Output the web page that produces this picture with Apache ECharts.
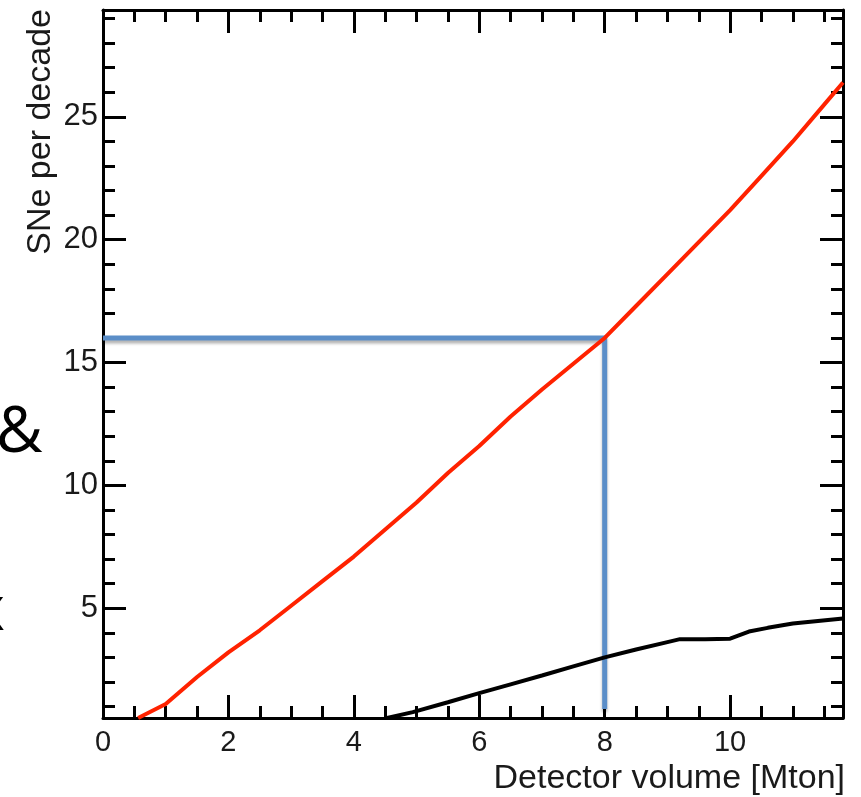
<!DOCTYPE html>
<html>
<head>
<meta charset="utf-8">
<script src="https://cdn.jsdelivr.net/npm/echarts@6/dist/echarts.min.js"></script>
<style>
html,body{margin:0;padding:0;background:#fff;}
#chart{width:861px;height:797px;}
</style>
</head>
<body>
<div id="chart"></div>
<script>
// ---- data ----
const redX = [0.56, 1, 1.5, 2, 2.5, 3, 3.5, 4, 4.5, 5, 5.5, 6, 6.5, 7, 7.5, 8, 8.5, 9, 9.5, 10, 10.5, 11, 11.5, 11.8];
const redY = [0.53, 1.1, 2.2, 3.2, 4.1, 5.1, 6.1, 7.1, 8.2, 9.3, 10.5, 11.6, 12.8, 13.9, 14.95, 16.0, 17.3, 18.6, 19.9, 21.2, 22.6, 24.0, 25.5, 26.4];
const blackX = [4.53, 4.94, 5.5, 6.0, 6.5, 7.0, 7.5, 8.0, 8.5, 9.0, 9.2, 9.6, 10.0, 10.3, 10.6, 11.0, 11.4, 11.8];
const blackY = [0.53, 0.77, 1.17, 1.54, 1.9, 2.26, 2.63, 3.0, 3.32, 3.62, 3.74, 3.74, 3.76, 4.05, 4.2, 4.38, 4.48, 4.58];
const markX = [0, 8, 8];
const markY = [16, 16, 0.9];
const xRange = [0, 11.8];
const yRange = [0.53, 29.35];
const xTitle = 'Detector volume [Mton]';
const yTitle = 'SNe per decade';
const sideTexts = ['&', 'x'];

const zip = (a, b) => a.map((v, i) => [v, b[i]]);
const FONT = '"Liberation Sans", Arial, sans-serif';

function axisCommon(showLabels, isX) {
  return {
    axisLine: {show: true, onZero: false, lineStyle: {color: '#000', width: 3}},
    axisTick: {show: true, inside: true, length: 23, lineStyle: {color: '#000', width: 3}},
    minorTick: {show: true, splitNumber: isX ? 4 : 5, length: 12, lineStyle: {color: '#000', width: 3}},
    splitLine: {show: false},
    minorSplitLine: {show: false},
    axisLabel: {
      show: showLabels,
      fontFamily: FONT,
      fontSize: isX ? 29 : 31,
      color: '#1a1a1a',
      margin: isX ? 10 : 5,
      formatter: function (v) {
        const step = isX ? 2 : 5;
        const r = Math.round(v / step) * step;
        return Math.abs(v - r) < 1e-6 ? String(r) : '';
      }
    }
  };
}

const chart = echarts.init(document.getElementById('chart'), null, {renderer: 'canvas'});
chart.setOption({
  animation: false,
  backgroundColor: '#fff',
  grid: {left: 103, right: 18, top: 10, bottom: 79, containLabel: false},
  xAxis: [
    Object.assign({type: 'value', position: 'bottom', min: xRange[0], max: xRange[1], splitNumber: 6}, axisCommon(true, true)),
    Object.assign({type: 'value', position: 'top', min: xRange[0], max: xRange[1], splitNumber: 6}, axisCommon(false, true))
  ],
  yAxis: [
    Object.assign({type: 'value', position: 'left', min: yRange[0], max: yRange[1], splitNumber: 6}, axisCommon(true, false)),
    Object.assign({type: 'value', position: 'right', min: yRange[0], max: yRange[1], splitNumber: 6}, axisCommon(false, false))
  ],
  series: [
    {
      type: 'line', data: zip(markX, markY), showSymbol: false, z: 3,
      lineStyle: {color: '#5b8ec8', width: 5, cap: 'butt', join: 'miter',
        shadowColor: 'rgba(0,0,0,0.3)', shadowBlur: 3, shadowOffsetY: 3}
    },
    {
      type: 'line', data: zip(blackX, blackY), showSymbol: false, z: 4,
      lineStyle: {color: '#000', width: 4}
    },
    {
      type: 'line', data: zip(redX, redY), showSymbol: false, z: 5,
      lineStyle: {color: '#ff2200', width: 4}
    }
  ],
  graphic: [
    {type: 'text', x: 845, y: 779, style: {text: xTitle, font: '34px ' + FONT, fill: '#1a1a1a', align: 'right', verticalAlign: 'middle'}},
    {type: 'text', x: 41, y: 9, rotation: Math.PI / 2, style: {text: yTitle, font: '34px ' + FONT, fill: '#1a1a1a', align: 'right', verticalAlign: 'middle'}},
    {type: 'text', x: -4, y: 434, style: {text: sideTexts[0], font: '64px "Open Sans", sans-serif', fill: '#000', align: 'left', verticalAlign: 'middle'}},
    {type: 'text', x: 5, y: 612, style: {text: sideTexts[1], font: '62px "Open Sans", sans-serif', fill: '#000', align: 'right', verticalAlign: 'middle'}}
  ]
});
</script>
</body>
</html>
